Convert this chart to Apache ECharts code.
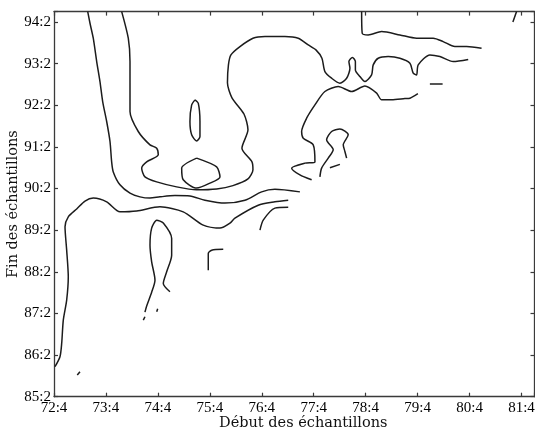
<!DOCTYPE html>
<html>
<head>
<meta charset="utf-8">
<script src="https://cdn.jsdelivr.net/npm/echarts@6/dist/echarts.min.js"></script>
<style>
  html, body { margin: 0; padding: 0; background: #fff; }
  #chart { width: 535px; height: 432px; }
</style>
</head>
<body>
<div id="chart"></div>
<script>
// Axis units: years elapsed since the first sample start (72:4) / first sample end (85:2)
const xTickLabels = ['72:4', '73:4', '74:4', '75:4', '76:4', '77:4', '78:4', '79:4', '80:4', '81:4'];
const yTickLabels = ['85:2', '86:2', '87:2', '88:2', '89:2', '90:2', '91:2', '92:2', '93:2', '94:2'];
const axisMax = 9.25;

// Contour paths, [start, end] in years
const contourA = [
  [0.649, 9.25], [0.693, 8.97], [0.756, 8.61], [0.822, 8.05], [0.885, 7.57], [0.937, 7.09],
  [1.014, 6.61], [1.078, 6.13], [1.110, 5.64], [1.141, 5.40], [1.270, 5.09], [1.463, 4.89],
  [1.655, 4.80], [1.848, 4.77], [2.040, 4.80], [2.329, 4.83], [2.617, 4.82], [2.906, 4.72],
  [3.291, 4.65], [3.676, 4.72], [3.997, 4.92], [4.253, 4.98], [4.734, 4.92]
];
const contourC = [
  [1.303, 9.25], [1.430, 8.61], [1.463, 8.05], [1.463, 7.41], [1.463, 6.85], [1.622, 6.37],
  [1.848, 6.05], [1.977, 5.97], [2.007, 5.81], [1.784, 5.64], [1.688, 5.49], [1.751, 5.28],
  [1.977, 5.16], [2.361, 5.04], [2.746, 4.97], [3.131, 4.99], [3.445, 5.07], [3.734, 5.23],
  [3.830, 5.45], [3.811, 5.64], [3.618, 5.97], [3.734, 6.41], [3.657, 6.79], [3.426, 7.18],
  [3.339, 7.54], [3.358, 7.97], [3.406, 8.21], [3.580, 8.41], [3.830, 8.61], [4.061, 8.65],
  [4.446, 8.65], [4.702, 8.61], [4.894, 8.45], [5.042, 8.33], [5.158, 8.13], [5.215, 7.81],
  [5.344, 7.65], [5.504, 7.53], [5.633, 7.65], [5.697, 7.89], [5.677, 8.05], [5.745, 8.15],
  [5.802, 8.05], [5.802, 7.85], [5.889, 7.69], [5.985, 7.57], [6.114, 7.73], [6.145, 7.97],
  [6.241, 8.13], [6.434, 8.17], [6.659, 8.13], [6.852, 8.01], [6.915, 7.77], [6.980, 7.73],
  [7.011, 7.97], [7.236, 8.21], [7.429, 8.17], [7.685, 8.05], [7.974, 8.10]
];
const contourE = [
  [5.922, 9.25], [5.933, 8.73], [6.049, 8.69], [6.307, 8.77], [6.659, 8.69], [6.980, 8.61],
  [7.300, 8.61], [7.492, 8.53], [7.717, 8.41], [7.943, 8.41], [8.231, 8.37]
];
const contourD = [
  [4.960, 5.21], [4.734, 5.33], [4.575, 5.49], [4.831, 5.61], [5.023, 5.64], [4.990, 6.05],
  [4.798, 6.21], [4.767, 6.37], [4.863, 6.69], [5.023, 7.01], [5.215, 7.33], [5.472, 7.45],
  [5.729, 7.33], [5.985, 7.46], [6.211, 7.29], [6.307, 7.13], [6.499, 7.13], [6.755, 7.16],
  [6.852, 7.17], [7.005, 7.28]
];
const contourF = [
  [5.119, 5.28], [5.152, 5.49], [5.279, 5.73], [5.375, 5.93], [5.248, 6.17], [5.344, 6.37],
  [5.504, 6.43], [5.664, 6.29], [5.568, 6.05], [5.600, 5.89], [5.633, 5.73]
];
const contourG = [
  [2.714, 7.13], [2.777, 7.05], [2.810, 6.61], [2.810, 6.25], [2.746, 6.14], [2.650, 6.29],
  [2.617, 6.61], [2.650, 7.01], [2.714, 7.13]
];
const contourH = [
  [2.746, 5.73], [3.131, 5.52], [3.195, 5.28], [3.002, 5.13], [2.746, 5.01], [2.488, 5.21],
  [2.458, 5.49], [2.746, 5.73]
];
const contourR = [
  [0.019, 0.72], [0.115, 0.96], [0.148, 1.28], [0.179, 1.84], [0.244, 2.32], [0.275, 2.88],
  [0.244, 3.52], [0.212, 4.08], [0.275, 4.32], [0.437, 4.51], [0.597, 4.70], [0.756, 4.77],
  [1.014, 4.68], [1.270, 4.44], [1.592, 4.46], [2.040, 4.56], [2.488, 4.44], [2.873, 4.12],
  [3.195, 4.05], [3.387, 4.17], [3.483, 4.29], [3.932, 4.60], [4.253, 4.68], [4.509, 4.72]
];
const contourK = [
  [3.965, 4.00], [4.028, 4.24], [4.253, 4.53], [4.509, 4.55]
];
const contourS = [
  [2.232, 2.52], [2.104, 2.72], [2.169, 3.00], [2.265, 3.40], [2.265, 3.80], [2.104, 4.17],
  [1.977, 4.24], [1.880, 4.05], [1.848, 3.64], [1.880, 3.24], [1.944, 2.80], [1.880, 2.51],
  [1.784, 2.18], [1.751, 2.03]
];
const contourT = [
  [2.970, 3.04], [2.970, 3.44], [3.035, 3.52], [3.258, 3.54]
];
// Short isolated fragments
const fragments = [
  [[7.236, 7.51], [7.481, 7.51]],
  [[5.312, 5.50], [5.504, 5.58]],
  [[1.719, 1.84], [1.751, 1.92]],
  [[1.977, 2.04], [1.996, 2.11]],
  [[0.448, 0.52], [0.500, 0.60]],
  [[8.834, 9.00], [8.905, 9.25]]
];

const paths = [contourA, contourC, contourE, contourD, contourF, contourG, contourH,
               contourR, contourK, contourS, contourT].concat(fragments);

const lineColor = '#1c1c1c';
const frameColor = '#3a3a3a';
const labelFont = { fontFamily: 'Liberation Serif', fontSize: 15, color: '#000' };

const chart = echarts.init(document.getElementById('chart'), null, { renderer: 'canvas' });

const baseAxis = {
  type: 'value', min: 0, max: axisMax, interval: 1,
  splitLine: { show: false },
  axisLine: { show: true, onZero: false, lineStyle: { color: frameColor, width: 1.3 } },
  axisTick: { show: true, inside: true, length: 4, lineStyle: { color: frameColor, width: 1.2 } }
};

chart.setOption({
  animation: false,
  backgroundColor: '#fff',
  grid: { left: 54, right: 0.5, top: 11.6, bottom: 35.3, containLabel: false, outerBoundsMode: 'none' },
  xAxis: [
    Object.assign({}, baseAxis, {
      position: 'bottom',
      name: 'Début des échantillons',
      nameLocation: 'middle',
      nameGap: 19,
      nameMoveOverlap: false,
      nameTextStyle: { fontFamily: 'DejaVu Serif', fontSize: 14.5, color: '#111', padding: [0, 0, 0, 18] },
      axisLabel: Object.assign({
        margin: 4,
        formatter: v => (Number.isInteger(v) && xTickLabels[v]) ? xTickLabels[v] : ''
      }, labelFont)
    }),
    Object.assign({}, baseAxis, { position: 'top', axisLabel: { show: false } })
  ],
  yAxis: [
    Object.assign({}, baseAxis, {
      position: 'left',
      name: 'Fin des échantillons',
      nameLocation: 'middle',
      nameGap: 33,
      nameMoveOverlap: false,
      nameTextStyle: { fontFamily: 'DejaVu Serif', fontSize: 14.5, color: '#111' },
      axisLabel: Object.assign({
        margin: 3,
        formatter: v => (Number.isInteger(v) && yTickLabels[v]) ? yTickLabels[v] : ''
      }, labelFont)
    }),
    Object.assign({}, baseAxis, { position: 'right', axisLabel: { show: false } })
  ],
  series: paths.map(p => ({
    type: 'line',
    xAxisIndex: 0,
    yAxisIndex: 0,
    data: p,
    showSymbol: false,
    symbol: 'none',
    smooth: 0.25,
    silent: true,
    lineStyle: { color: lineColor, width: 1.5 }
  }))
});
</script>
</body>
</html>
